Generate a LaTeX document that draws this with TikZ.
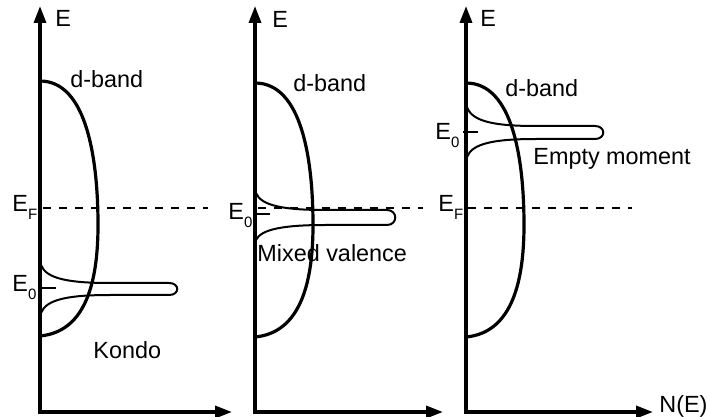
\documentclass[tikz,border=0pt]{standalone}
\usepackage{fontspec}
\setmainfont{Liberation Sans}
\usetikzlibrary{arrows.meta}
\newcommand{\lvsub}[1]{\raisebox{-4pt}{\fontsize{7.5}{8}\selectfont #1}}

\begin{document}
\begin{tikzpicture}[x=0.5pt,y=-0.5pt,font=\fontsize{11.7}{14}\selectfont]

% canvas
\useasboundingbox (0,0) rectangle (708,417);

\tikzset{
  axis/.style={
    line width=1.7pt,
    {Triangle[length=8.5pt,width=6pt]}-{Triangle[length=8.5pt,width=6pt]}
  },
  band/.style={line width=1.6pt},
  peak/.style={line width=1pt},
  fermi/.style={line width=1pt,dash pattern=on 4pt off 4pt},
  levtick/.style={line width=1pt},
  lbl/.style={anchor=base west,inner sep=0pt}
}

% axes — three panels, origins at x=40, 255, 466
\foreach \n/\x/\xr in {1/40/232,2/255/443,3/466/653}{
  \coordinate (top\n) at (\x,6);
  \coordinate (org\n) at (\x,412);
  \coordinate (end\n) at (\xr,412);
  \draw[axis] (top\n) -- (org\n) -- (end\n);
}

% Fermi level
\foreach \x/\xe in {43/208,258/423,468/632}{
  \draw[fermi] (\x,208) -- (\xe,208);
}

% d-band
\foreach \x/\yt/\yb in {40/81/336,255/83/337,466/83/337}{
  \draw[band] (\x,\yt)
    .. controls ({\x+47},\yt) and ({\x+58},160) .. ({\x+58},225)
    .. controls ({\x+58},290) and ({\x+42},{\yb-4}) .. (\x,\yb);
}

% impurity level peaks
\foreach \x/\ys/\yu/\xt/\yl/\ye in {40/265/283/177/295/313,
                                     255/193/210/395/225/240,
                                     466/107/126/603/139/157}{
  \draw[peak] ({\x+1},\ys)
    .. controls ({\x+6},{\yu-4}) and ({\x+30},\yu) .. ({\x+70},\yu)
    -- ({\xt-8},\yu)
    .. controls ({\xt+3},\yu) and ({\xt+3},\yl) .. ({\xt-8},\yl)
    -- ({\x+70},\yl)
    .. controls ({\x+30},\yl) and ({\x+6},{\yl+4}) .. ({\x+1},\ye);
}

% E0 ticks
\foreach \x/\y/\xe in {40/288/56,255/214/270,463/132/478}{
  \draw[levtick] (\x,\y) -- (\xe,\y);
}

% axis labels
\node[lbl] (e1) at (55,27) {E};
\node[lbl] (e2) at (272,28) {E};
\node[lbl] (e3) at (480,27) {E};
\node[lbl] (ne) at (659,413) {N(E)};

% level labels
\node[lbl] (ef1) at (12,212) {E\lvsub{F}};
\node[lbl] (ef3) at (438,212) {E\lvsub{F}};
\node[lbl] (eo1) at (12,292) {E\lvsub{0}};
\node[lbl] (eo2) at (228,220) {E\lvsub{0}};
\node[lbl] (eo3) at (435,140) {E\lvsub{0}};

% band and regime labels
\node[lbl] (db1) at (70,88) {d-band};
\node[lbl] (db2) at (293,92) {d-band};
\node[lbl] (db3) at (505,97) {d-band};
\node[lbl] (kondo) at (93,358) {Kondo};
\node[lbl] (mixed) at (257,262) {Mixed valence};
\node[lbl] (empty) at (533,165) {Empty moment};

\end{tikzpicture}
\end{document}
